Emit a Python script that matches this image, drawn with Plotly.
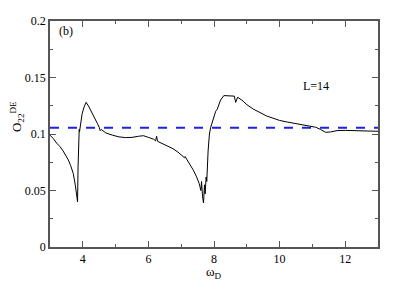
import plotly.graph_objects as go

# omega_D values and O_22^DE (L=14)
omega_d = [3.0, 3.1, 3.2, 3.3, 3.4, 3.5, 3.56, 3.63, 3.71, 3.77, 3.81, 3.84,
           3.855, 3.87, 3.89, 3.9, 3.93, 3.98, 4.04, 4.1, 4.17, 4.25, 4.35,
           4.45, 4.5, 4.53, 4.56, 4.7, 4.9, 5.1, 5.3, 5.5, 5.7, 5.85, 6.0,
           6.15, 6.22, 6.25, 6.28, 6.45, 6.6, 6.75, 6.9, 7.02, 7.1, 7.12,
           7.25, 7.37, 7.47, 7.55, 7.6, 7.62, 7.65, 7.68, 7.71, 7.73, 7.76,
           7.78, 7.82, 7.86, 7.9, 7.97, 8.0, 8.05, 8.1, 8.2, 8.3, 8.55, 8.62,
           8.66, 8.72, 8.85, 9.0, 9.2, 9.4, 9.6, 9.8, 10.0, 10.25, 10.5, 10.8,
           11.1, 11.25, 11.4, 11.55, 11.75, 12.0, 12.5, 13.0]
o22_de = [0.099, 0.096, 0.092, 0.089, 0.085, 0.080, 0.077, 0.072, 0.065, 0.055,
          0.046, 0.040, 0.070, 0.098, 0.104, 0.102, 0.110, 0.118, 0.124, 0.128,
          0.125, 0.120, 0.114, 0.109, 0.106, 0.103, 0.104, 0.101, 0.099, 0.0975,
          0.0968, 0.097, 0.098, 0.0985, 0.097, 0.0955, 0.094, 0.098, 0.0935,
          0.091, 0.089, 0.087, 0.084, 0.081, 0.079, 0.080, 0.074, 0.068, 0.062,
          0.056, 0.050, 0.058, 0.045, 0.039, 0.055, 0.047, 0.062, 0.058, 0.085,
          0.100, 0.106, 0.112, 0.114, 0.120, 0.122, 0.130, 0.134, 0.134, 0.1335,
          0.128, 0.1325, 0.130, 0.126, 0.122, 0.119, 0.116, 0.114, 0.112, 0.1105,
          0.109, 0.1075, 0.106, 0.104, 0.1015, 0.1018, 0.103, 0.1032, 0.1030,
          0.1024]
mean_level = 0.1056
x_ticks = [4, 6, 8, 10, 12]
y_ticks = [0, 0.05, 0.1, 0.15, 0.2]
y_ticktext = ["0", "0.05", "0.1", "0.15", "0.2"]

_FONT = dict(family="Liberation Serif", size=12, color="#000000")
_AXIS = "#555555"

fig = go.Figure()
fig.add_trace(go.Scatter(
    x=[3, 13], y=[mean_level, mean_level], mode="lines",
    line=dict(color="#2020e0", width=2, dash="dash"),
    showlegend=False, hoverinfo="skip",
))
fig.add_trace(go.Scatter(
    x=omega_d, y=o22_de, mode="lines",
    line=dict(color="#000000", width=1),
    showlegend=False,
))

fig.add_annotation(x=3.22, y=0.191, text="(b)", showarrow=False,
                   xanchor="left", yanchor="middle", font=_FONT)
fig.add_annotation(x=11.1, y=0.1425, text="L=14", showarrow=False,
                   xanchor="center", yanchor="middle", font=_FONT)

# axis titles as annotations so their place can be set exactly
fig.add_annotation(x=0.5, y=0, xref="paper", yref="paper", yshift=-15,
                   text="ω<sub>D</sub>", showarrow=False,
                   xanchor="center", yanchor="top", font=dict(_FONT, size=13))
fig.add_annotation(x=0, y=0.575, xref="paper", yref="paper", xshift=-33,
                   text="O<sub>22</sub><sup>DE</sup>", textangle=-90, showarrow=False,
                   xanchor="center", yanchor="middle", font=dict(_FONT, size=13))

axis_common = dict(
    showline=True, linecolor=_AXIS, linewidth=1.5, mirror="ticks",
    ticks="inside", ticklen=6, tickcolor=_AXIS, tickwidth=1,
    showgrid=False, zeroline=False, tickfont=_FONT, automargin=False,
)
fig.update_xaxes(
    range=[3, 13], tickvals=x_ticks,
    minor=dict(dtick=1, ticks="inside", ticklen=3, tickcolor=_AXIS, showgrid=False),
    **axis_common,
)
fig.update_yaxes(
    range=[0, 0.2], tickvals=y_ticks, ticktext=y_ticktext,
    minor=dict(dtick=0.025, ticks="inside", ticklen=3, tickcolor=_AXIS, showgrid=False),
    **axis_common,
)

# page body keeps an 8px margin, so the figure is shrunk by that much
fig.update_layout(
    width=407, height=286,
    margin=dict(l=42, r=37, t=13, b=47),
    plot_bgcolor="white", paper_bgcolor="white",
    font=_FONT,
)

fig.write_html("out.html")
